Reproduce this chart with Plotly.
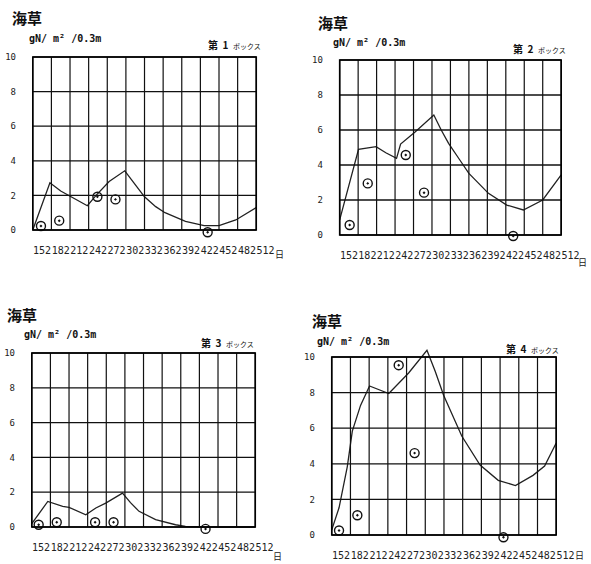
import plotly.graph_objects as go

W, H = 591, 564

tick_labels = ["152", "182", "212", "242", "272", "302", "332", "362", "392", "422", "452", "482", "512"]
y_ticks = [0, 2, 4, 6, 8, 10]

box_names = ["第 1 ボックス", "第 2 ボックス", "第 3 ボックス", "第 4 ボックス"]

line1_x = [0, 0.92, 1.5, 2.0, 2.5, 2.93, 3.4, 4.1, 4.94, 5.5, 6.0, 6.6, 7.1, 8.2, 9.2, 10.0, 10.9, 12]
line1_y = [0, 2.73, 2.25, 1.95, 1.65, 1.4, 2.0, 2.8, 3.42, 2.6, 1.92, 1.35, 1.0, 0.5, 0.25, 0.25, 0.58, 1.3]
line2_x = [0, 1.02, 1.97, 2.5, 3.08, 3.3, 4.1, 5.1, 5.5, 5.9, 6.5, 7.0, 8.06, 9.05, 9.95, 11.0, 12]
line2_y = [0.86, 4.9, 5.05, 4.7, 4.38, 5.2, 5.9, 6.86, 6.0, 5.24, 4.3, 3.52, 2.38, 1.71, 1.43, 2.0, 3.43]
line3_x = [0, 0.86, 1.66, 2.0, 2.9, 3.44, 3.97, 4.87, 5.3, 5.76, 6.65, 7.72, 8.25, 9.3, 12]
line3_y = [0.19, 1.47, 1.18, 1.13, 0.7, 1.09, 1.37, 1.95, 1.4, 0.9, 0.42, 0.13, 0.04, 0.0, 0.0]
line4_x = [0, 0.39, 0.83, 1.1, 1.54, 2.02, 3.05, 4.11, 5.09, 5.53, 5.98, 6.95, 7.93, 8.9, 9.82, 10.76, 11.38, 12]
line4_y = [0.29, 1.53, 3.83, 5.84, 7.28, 8.37, 7.95, 9.1, 10.38, 9.2, 7.85, 5.56, 3.93, 3.07, 2.78, 3.35, 3.87, 5.17]

obs1_x = [0.44, 1.42, 3.47, 4.44, 9.39]
obs1_y = [0.23, 0.54, 1.92, 1.77, -0.13]
obs2_x = [0.54, 1.52, 3.58, 4.57, 9.4]
obs2_y = [0.57, 2.95, 4.57, 2.42, -0.06]
obs3_x = [0.37, 1.34, 3.4, 4.39, 9.33]
obs3_y = [0.13, 0.27, 0.27, 0.27, -0.11]
obs4_x = [0.39, 1.37, 3.58, 4.43, 9.18]
obs4_y = [0.25, 1.11, 9.54, 4.6, -0.13]

lines = [(line1_x, line1_y), (line2_x, line2_y), (line3_x, line3_y), (line4_x, line4_y)]
obs = [(obs1_x, obs1_y), (obs2_x, obs2_y), (obs3_x, obs3_y), (obs4_x, obs4_y)]

# frame pixel boxes (left, right, top, bottom)
frames = [(33, 258, 57, 230), (342, 565, 60, 235), (32, 257, 353, 527), (334, 560, 357, 535)]
XR = [-0.15, 12.75]
YR = [-0.45, 10.6]

fig = go.Figure()
shapes = []
annotations = []
layout = {}

for i in range(4):
    x0, x1, yt, yb = frames[i]
    pxu = (x1 - x0) / 12
    pyu = (yb - yt) / 10
    left = x0 + XR[0] * pxu
    right = x0 + XR[1] * pxu
    top = yb - YR[1] * pyu
    bottom = yb - YR[0] * pyu
    n = "" if i == 0 else str(i + 1)
    xa, ya = "x" + n, "y" + n
    layout["xaxis" + n] = dict(
        domain=[left / W, right / W], range=XR, anchor=ya,
        tickvals=[k + 0.5 for k in range(13)], ticktext=tick_labels, tickangle=0,
        showgrid=False, zeroline=False, showline=False, ticks="",
        tickfont=dict(family="DejaVu Sans Mono", size=10, color="#222"),
        ticklabelstandoff=5,
    )
    layout["yaxis" + n] = dict(
        domain=[1 - bottom / H, 1 - top / H], range=YR, anchor=xa,
        tickvals=y_ticks, showgrid=False, zeroline=False, showline=False, ticks="",
        tickfont=dict(family="DejaVu Sans Mono", size=9, color="#222"),
        ticklabelstandoff=13,
    )
    # grid
    for k in range(13):
        shapes.append(dict(type="line", xref=xa, yref=ya, x0=k, x1=k, y0=0, y1=10,
                           line=dict(color="#111", width=1.2)))
    for v in y_ticks:
        shapes.append(dict(type="line", xref=xa, yref=ya, x0=0, x1=12, y0=v, y1=v,
                           line=dict(color="#111", width=1.3)))
    shapes.append(dict(type="rect", xref=xa, yref=ya, x0=0, x1=12, y0=0, y1=10,
                       line=dict(color="#000", width=1.6)))
    lx, ly = lines[i]
    fig.add_trace(go.Scatter(x=lx, y=ly, mode="lines", xaxis=xa, yaxis=ya,
                             line=dict(color="#222", width=1.3), showlegend=False))
    ox, oy = obs[i]
    fig.add_trace(go.Scatter(x=ox, y=oy, mode="markers", xaxis=xa, yaxis=ya, cliponaxis=False,
                             marker=dict(symbol="circle-open-dot", size=9, color="#111",
                                         line=dict(width=1.4, color="#111")),
                             showlegend=False))

# titles
title_pos = [(10, 17), (318, 22), (5, 315), (312, 320)]
unit_pos = [(27, 38), (333, 42), (22, 334), (317, 341)]
box_pos = [(265, 44), (572, 48), (258, 342), (565, 348)]
day_pos = [(281, 254), (586, 262), (279, 556), (583, 555)]
for i in range(4):
    tx, ty = title_pos[i]
    annotations.append(dict(text="<b>海草</b>", x=tx / W, y=1 - ty / H, xref="paper", yref="paper",
                            xanchor="left", yanchor="middle", showarrow=False,
                            font=dict(family="Noto Sans CJK JP", size=15, color="#111")))
    ux, uy = unit_pos[i]
    annotations.append(dict(text="<b>gN/ m² /0.3m</b>", x=ux / W, y=1 - uy / H, xref="paper", yref="paper",
                            xanchor="left", yanchor="middle", showarrow=False,
                            font=dict(family="DejaVu Sans Mono", size=10, color="#111")))
    bx, by = box_pos[i]
    name = box_names[i]
    head, rest = name[:3], name[4:]
    annotations.append(dict(text="<b>" + head.replace(" ", "  ") + "</b>  <span style='font-size:7px'>" + rest + "</span>",
                            x=bx / W, y=1 - by / H, xref="paper", yref="paper",
                            xanchor="right", yanchor="middle", showarrow=False,
                            font=dict(family="Noto Sans CJK JP", size=10, color="#111")))
    dx, dy = day_pos[i]
    annotations.append(dict(text="日", x=dx / W, y=1 - dy / H, xref="paper", yref="paper",
                            xanchor="center", yanchor="middle", showarrow=False,
                            font=dict(family="Noto Sans CJK JP", size=9, color="#222")))

fig.update_layout(width=W, height=H, margin=dict(l=0, r=0, t=0, b=0),
                  paper_bgcolor="white", plot_bgcolor="white",
                  shapes=shapes, annotations=annotations, **layout)
fig.write_html("out.html", config={"displayModeBar": False},
               post_script="document.body.style.margin='0';document.body.style.overflow='hidden';")
